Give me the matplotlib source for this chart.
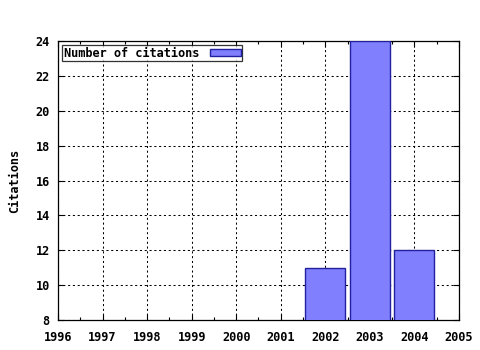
import matplotlib
matplotlib.use("Agg")
import matplotlib.pyplot as plt
from matplotlib.ticker import MultipleLocator

# data
years = [2002, 2003, 2004]
citations = [11, 24, 12]
xticks = list(range(1996, 2006))
yticks = list(range(8, 25, 2))

plt.rcParams['font.family'] = ['DejaVu Sans Mono']
plt.rcParams['font.weight'] = 'bold'
plt.rcParams['font.size'] = 8.6

fig = plt.figure(figsize=(4.8, 3.5), dpi=100)
ax = fig.add_axes([58 / 480, 1 - 320 / 350, (459 - 58) / 480, (320 - 41) / 350])

ax.bar(years, citations, width=0.9, bottom=0, color="#8080ff",
       edgecolor="#2020a0", linewidth=1.0, label="Number of citations", zorder=3)

ax.set_xlim(1996, 2005)
ax.set_ylim(8, 24)
ax.set_xticks(xticks)
ax.set_yticks(yticks)
ax.xaxis.set_minor_locator(MultipleLocator(0.5))
ax.tick_params(which="both", direction="in", top=True, right=True, length=4, width=0.8)
ax.tick_params(which="minor", length=2)
ax.tick_params(axis="x", pad=8)
ax.tick_params(axis="y", pad=6)
ax.grid(True, which="major", color="black", linestyle=(0, (2, 2.6)), linewidth=0.75, zorder=0)
ax.set_ylabel("Citations", fontweight="bold", labelpad=10)
for s in ax.spines.values():
    s.set_linewidth(0.9)

leg = ax.legend(loc="upper left", frameon=True, fancybox=False, borderpad=0.12,
                handlelength=2.6, handleheight=0.55, borderaxespad=0.35,
                markerfirst=False, handletextpad=0.9, labelspacing=0.0)
leg.get_frame().set_edgecolor("black")
leg.get_frame().set_linewidth(0.9)

fig.savefig("out.png", dpi=100)
